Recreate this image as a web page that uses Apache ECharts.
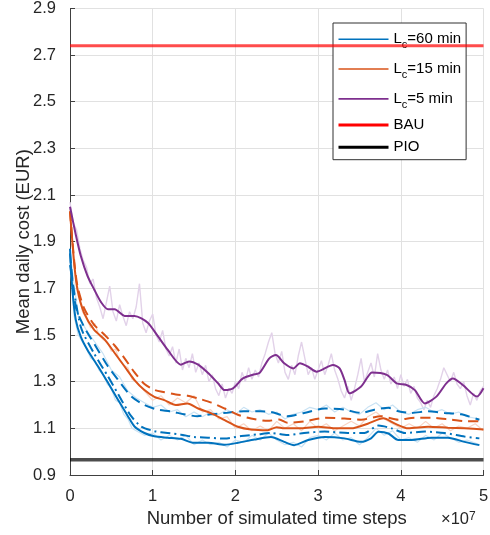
<!DOCTYPE html>
<html><head><meta charset="utf-8">
<script src="https://cdn.jsdelivr.net/npm/echarts@6/dist/echarts.min.js"></script>
<style>html,body{margin:0;padding:0;background:#fff}#c{width:490px;height:535px}</style>
</head><body><div id="c"></div>
<script>
// x in units of 1e7 simulated time steps, y = mean daily cost (EUR)
const xTickLabels = ['0','1','2','3','4','5'];
const yTickValues = [0.9,1.1,1.3,1.5,1.7,1.9,2.1,2.3,2.5,2.7,2.9];
const bauValue = 2.74;
const pioValue = 0.965;

const lc5Solid = [[0,2.05],[0.07,1.93],[0.13,1.84],[0.21,1.755],[0.29,1.697],[0.375,1.641],[0.46,1.61],[0.54,1.61],[0.66,1.582],[0.78,1.582],[0.94,1.553],[1.06,1.496],[1.18,1.437],[1.34,1.373],[1.44,1.387],[1.55,1.373],[1.67,1.337],[1.79,1.293],[1.87,1.264],[1.97,1.271],[2.09,1.314],[2.21,1.33],[2.29,1.337],[2.41,1.40],[2.49,1.414],[2.59,1.379],[2.70,1.357],[2.78,1.379],[2.88,1.364],[2.98,1.343],[3.18,1.372],[3.26,1.357],[3.32,1.307],[3.38,1.25],[3.52,1.279],[3.60,1.32],[3.65,1.339],[3.83,1.329],[3.95,1.293],[4.07,1.286],[4.17,1.264],[4.29,1.207],[4.43,1.236],[4.55,1.293],[4.63,1.314],[4.75,1.286],[4.92,1.236],[5.0,1.272]];
const lc15Solid = [[0,2.03],[0.05,1.81],[0.09,1.695],[0.17,1.595],[0.29,1.523],[0.42,1.48],[0.54,1.423],[0.66,1.365],[0.78,1.307],[0.9,1.264],[1.02,1.235],[1.14,1.221],[1.28,1.20],[1.42,1.207],[1.55,1.185],[1.71,1.164],[1.87,1.135],[2.03,1.107],[2.19,1.095],[2.39,1.092],[2.50,1.105],[2.59,1.10],[2.80,1.10],[3.0,1.107],[3.2,1.10],[3.4,1.10],[3.6,1.12],[3.79,1.143],[3.93,1.12],[4.09,1.10],[4.33,1.107],[4.57,1.103],[4.77,1.10],[5.0,1.095]];
const lc15Dashed = [[0,2.03],[0.05,1.82],[0.09,1.71],[0.17,1.615],[0.29,1.545],[0.42,1.50],[0.54,1.455],[0.66,1.40],[0.78,1.34],[0.9,1.29],[1.02,1.265],[1.14,1.255],[1.28,1.245],[1.42,1.24],[1.55,1.228],[1.71,1.21],[1.87,1.185],[2.03,1.158],[2.19,1.142],[2.39,1.132],[2.53,1.138],[2.63,1.124],[2.83,1.13],[3.08,1.145],[3.32,1.142],[3.52,1.137],[3.76,1.152],[3.97,1.137],[4.17,1.145],[4.37,1.145],[4.61,1.137],[4.81,1.13],[5.0,1.13]];
const lc60Solid = [[0,1.87],[0.03,1.69],[0.07,1.565],[0.13,1.493],[0.21,1.437],[0.34,1.365],[0.46,1.295],[0.58,1.223],[0.70,1.152],[0.78,1.108],[0.90,1.08],[1.02,1.066],[1.18,1.06],[1.34,1.055],[1.50,1.038],[1.67,1.038],[1.87,1.03],[2.03,1.038],[2.23,1.052],[2.43,1.063],[2.59,1.042],[2.71,1.028],[2.88,1.05],[3.08,1.063],[3.32,1.057],[3.52,1.042],[3.64,1.057],[3.73,1.085],[3.85,1.078],[3.97,1.05],[4.13,1.05],[4.37,1.06],[4.57,1.06],[4.77,1.042],[4.95,1.028]];
const lc60DashDot = [[0,1.80],[0.13,1.535],[0.29,1.422],[0.46,1.322],[0.62,1.223],[0.74,1.152],[0.86,1.108],[1.02,1.088],[1.18,1.08],[1.34,1.073],[1.50,1.063],[1.67,1.06],[1.87,1.056],[2.07,1.067],[2.27,1.074],[2.43,1.08],[2.63,1.071],[2.83,1.08],[3.08,1.086],[3.36,1.08],[3.56,1.08],[3.73,1.112],[3.89,1.10],[4.05,1.08],[4.29,1.086],[4.53,1.08],[4.77,1.065],[4.95,1.057]];
const lc60Dashed = [[0,1.85],[0.07,1.62],[0.17,1.535],[0.29,1.464],[0.46,1.365],[0.58,1.308],[0.74,1.237],[0.9,1.20],[1.06,1.18],[1.22,1.173],[1.38,1.16],[1.54,1.152],[1.70,1.16],[1.90,1.167],[2.10,1.173],[2.30,1.173],[2.43,1.17],[2.63,1.152],[2.83,1.166],[3.08,1.185],[3.32,1.18],[3.52,1.166],[3.68,1.18],[3.85,1.188],[3.97,1.173],[4.13,1.166],[4.33,1.173],[4.53,1.166],[4.73,1.16],[4.95,1.137]];

// faint raw (unsmoothed) traces
const lc5Raw = [[0,2.07],[0.04,1.98],[0.08,1.95],[0.12,1.87],[0.16,1.82],[0.2,1.79],[0.24,1.72],[0.28,1.74],[0.32,1.66],[0.36,1.62],[0.4,1.57],[0.44,1.64],[0.48,1.71],[0.52,1.60],[0.56,1.56],[0.6,1.63],[0.64,1.58],[0.68,1.54],[0.72,1.60],[0.76,1.57],[0.8,1.62],[0.84,1.72],[0.88,1.55],[0.92,1.51],[0.96,1.56],[1.0,1.59],[1.04,1.50],[1.08,1.47],[1.12,1.52],[1.16,1.44],[1.2,1.41],[1.24,1.45],[1.28,1.38],[1.32,1.44],[1.36,1.35],[1.40,1.40],[1.44,1.36],[1.48,1.42],[1.52,1.34],[1.56,1.38],[1.60,1.33],[1.64,1.37],[1.68,1.30],[1.72,1.33],[1.76,1.27],[1.80,1.24],[1.84,1.29],[1.88,1.23],[1.92,1.27],[1.96,1.25],[2.0,1.30],[2.04,1.27],[2.08,1.34],[2.12,1.30],[2.16,1.36],[2.2,1.31],[2.24,1.35],[2.28,1.32],[2.32,1.38],[2.36,1.42],[2.40,1.47],[2.44,1.51],[2.48,1.42],[2.52,1.38],[2.56,1.43],[2.60,1.34],[2.64,1.31],[2.68,1.37],[2.72,1.33],[2.76,1.41],[2.80,1.47],[2.84,1.40],[2.88,1.33],[2.92,1.36],[2.96,1.31],[3.0,1.35],[3.04,1.39],[3.08,1.33],[3.12,1.37],[3.16,1.42],[3.20,1.35],[3.24,1.31],[3.28,1.26],[3.32,1.23],[3.36,1.28],[3.40,1.22],[3.44,1.27],[3.48,1.33],[3.52,1.40],[3.56,1.30],[3.60,1.34],[3.64,1.38],[3.68,1.32],[3.72,1.42],[3.76,1.35],[3.80,1.31],[3.84,1.35],[3.88,1.29],[3.92,1.32],[3.96,1.27],[4.0,1.33],[4.04,1.28],[4.08,1.31],[4.12,1.25],[4.16,1.28],[4.20,1.23],[4.24,1.21],[4.28,1.18],[4.32,1.22],[4.36,1.19],[4.40,1.24],[4.44,1.27],[4.48,1.31],[4.52,1.36],[4.56,1.33],[4.60,1.30],[4.64,1.34],[4.68,1.29],[4.72,1.27],[4.76,1.30],[4.80,1.24],[4.84,1.20],[4.88,1.25],[4.92,1.22],[4.96,1.26],[5.0,1.28]];
const lc15Raw = [[0,2.04],[0.05,1.79],[0.1,1.69],[0.15,1.60],[0.2,1.57],[0.25,1.53],[0.3,1.55],[0.35,1.50],[0.4,1.48],[0.45,1.47],[0.5,1.43],[0.55,1.44],[0.6,1.39],[0.65,1.37],[0.7,1.36],[0.75,1.31],[0.8,1.30],[0.85,1.28],[0.9,1.26],[1.0,1.22],[1.1,1.24],[1.2,1.20],[1.3,1.23],[1.4,1.21],[1.5,1.24],[1.6,1.17],[1.7,1.18],[1.8,1.14],[1.9,1.15],[2.0,1.10],[2.1,1.12],[2.2,1.09],[2.3,1.11],[2.4,1.09],[2.5,1.13],[2.6,1.10],[2.7,1.12],[2.8,1.09],[2.9,1.13],[3.0,1.10],[3.1,1.12],[3.2,1.09],[3.3,1.11],[3.4,1.13],[3.5,1.11],[3.6,1.15],[3.7,1.17],[3.8,1.14],[3.9,1.12],[4.0,1.10],[4.1,1.12],[4.2,1.10],[4.3,1.13],[4.4,1.10],[4.5,1.12],[4.6,1.09],[4.7,1.11],[4.8,1.10],[4.9,1.12],[5.0,1.09]];
const lc60RawLow = [[0,1.82],[0.05,1.58],[0.1,1.50],[0.15,1.47],[0.2,1.44],[0.25,1.40],[0.3,1.39],[0.35,1.35],[0.4,1.33],[0.45,1.29],[0.5,1.27],[0.55,1.22],[0.6,1.21],[0.65,1.16],[0.7,1.14],[0.75,1.10],[0.8,1.09],[0.9,1.07],[1.0,1.08],[1.1,1.05],[1.2,1.07],[1.3,1.05],[1.4,1.07],[1.5,1.03],[1.6,1.05],[1.7,1.03],[1.8,1.04],[1.9,1.02],[2.0,1.05],[2.1,1.04],[2.2,1.07],[2.3,1.05],[2.4,1.08],[2.5,1.05],[2.6,1.03],[2.7,1.04],[2.8,1.02],[2.9,1.06],[3.0,1.07],[3.1,1.05],[3.2,1.08],[3.3,1.05],[3.4,1.06],[3.5,1.03],[3.6,1.06],[3.7,1.10],[3.8,1.07],[3.9,1.09],[4.0,1.05],[4.1,1.06],[4.2,1.04],[4.3,1.07],[4.4,1.05],[4.5,1.08],[4.6,1.06],[4.7,1.04],[4.8,1.05],[4.95,1.03]];
const lc60RawHigh = [[0,1.85],[0.1,1.58],[0.2,1.52],[0.3,1.47],[0.4,1.42],[0.5,1.35],[0.6,1.32],[0.7,1.26],[0.8,1.23],[0.9,1.21],[1.0,1.19],[1.1,1.20],[1.2,1.17],[1.3,1.18],[1.4,1.15],[1.5,1.17],[1.6,1.15],[1.7,1.17],[1.8,1.16],[1.9,1.18],[2.0,1.16],[2.1,1.19],[2.2,1.17],[2.3,1.18],[2.4,1.16],[2.5,1.17],[2.6,1.14],[2.7,1.16],[2.8,1.17],[2.9,1.19],[3.0,1.18],[3.1,1.20],[3.2,1.17],[3.3,1.19],[3.4,1.17],[3.5,1.16],[3.6,1.19],[3.7,1.21],[3.8,1.18],[3.9,1.20],[4.0,1.17],[4.1,1.16],[4.2,1.18],[4.3,1.19],[4.4,1.17],[4.5,1.18],[4.6,1.16],[4.7,1.17],[4.8,1.15],[4.95,1.14]];

const BLUE = '#0072BD', ORANGE = '#D95319', PURPLE = '#7E2F8E';
const TXT = '#262626';
const FONT = 'Liberation Sans, Arial, Helvetica, sans-serif';

const legendLabels = {
  'Lc60': '{m|L}{s|c}{m|=60 min}',
  'Lc15': '{m|L}{s|c}{m|=15 min}',
  'Lc5': '{m|L}{s|c}{m|=5 min}',
  'BAU': '{n|BAU}',
  'PIO': '{n|PIO}'
};

function faint(data, color, width) {
  return {type:'line', data, symbol:'none', showSymbol:false, silent:true, z:1,
    lineStyle:{color, width:width||1}, itemStyle:{color}};
}
function curve(name, data, color, type, width) {
  return {type:'line', name, data, symbol:'none', showSymbol:false, smooth:0.25, z:3,
    lineStyle:{color, width, type}, itemStyle:{color}};
}
const hideSym = {opacity:0, color:'rgba(0,0,0,0)', borderWidth:0};

const chart = echarts.init(document.getElementById('c'), null, {renderer:'canvas'});
chart.setOption({
  animation:false,
  backgroundColor:'#fff',
  textStyle:{fontFamily:FONT},
  grid:{left:70, right:6.5, top:8.4, bottom:60, containLabel:false, outerBoundsMode:'none'},
  xAxis:{
    type:'value', min:0, max:5, interval:1,
    name:'Number of simulated time steps', nameLocation:'middle', nameGap:30,
    nameTextStyle:{color:TXT, fontSize:18.5, fontFamily:FONT},
    axisLine:{show:true, onZero:false, lineStyle:{color:'#404040', width:1}},
    axisTick:{show:true, inside:true, length:5, lineStyle:{color:'#404040'}},
    axisLabel:{color:TXT, fontSize:16.5, margin:13, fontFamily:FONT,
      formatter:(v)=>xTickLabels[Math.round(v)]},
    splitLine:{show:true, lineStyle:{color:'#e1e1e1', width:1}}
  },
  yAxis:{
    type:'value', min:0.9, max:2.9, interval:0.2,
    name:'Mean daily cost (EUR)', nameLocation:'middle', nameGap:37, nameMoveOverlap:false,
    nameTextStyle:{color:TXT, fontSize:18.5, fontFamily:FONT},
    axisLine:{show:true, onZero:false, lineStyle:{color:'#404040', width:1}},
    axisTick:{show:true, inside:true, length:5, lineStyle:{color:'#404040'}},
    axisLabel:{color:TXT, fontSize:16.5, margin:14, fontFamily:FONT,
      formatter:(v)=>{ const t = yTickValues.find(y=>Math.abs(y-v)<1e-6); return t===undefined?'':t.toFixed(1);} },
    splitLine:{show:true, lineStyle:{color:'#e1e1e1', width:1}}
  },
  legend:{
    show:true, orient:'vertical', left:333, top:23,
    padding:[5,5,5,4], itemGap:7.3, itemWidth:50, itemHeight:15,
    backgroundColor:'#fff', borderColor:'#303030', borderWidth:1,
    itemStyle:hideSym,
    data:[
      {name:'Lc60', lineStyle:{width:1.6}, itemStyle:hideSym},
      {name:'Lc15', lineStyle:{width:1.6}, itemStyle:hideSym},
      {name:'Lc5', lineStyle:{width:1.6}, itemStyle:hideSym},
      {name:'BAU', lineStyle:{width:3, opacity:1}, itemStyle:hideSym},
      {name:'PIO', lineStyle:{width:3, opacity:1}, itemStyle:hideSym}
    ],
    formatter:(name)=>legendLabels[name],
    textStyle:{color:'#000', fontSize:15, fontFamily:FONT,
      rich:{
        m:{fontSize:15, lineHeight:22.5, height:22.5, fontFamily:FONT, color:'#000'},
        s:{fontSize:11, lineHeight:11, verticalAlign:'bottom', fontFamily:FONT, color:'#000'},
        n:{fontSize:15, lineHeight:15, fontFamily:FONT, color:'#000'}
      }}
  },
  graphic:[{
    type:'text', left:441, top:511, silent:true,
    style:{text:'×10{p|7}', fill:TXT, font:'16.5px '+FONT,
      rich:{p:{fontSize:12, verticalAlign:'top', lineHeight:12, fill:TXT, fontFamily:FONT}}}
  }],
  series:[
    faint(lc5Raw, '#e2d2e9', 1.4),
    faint(lc15Raw, '#f8d4c4', 1.2),
    faint(lc60RawHigh, '#c9e2f3', 1.2),
    faint(lc60RawLow, '#c9e2f3', 1.2),
    curve('Lc60d', lc60Dashed, BLUE, [10,6], 2),
    curve('Lc60dd', lc60DashDot, BLUE, [10,4,2,4], 2),
    curve('Lc15d', lc15Dashed, ORANGE, [10,6], 2),
    curve('Lc60', lc60Solid, BLUE, 'solid', 2),
    curve('Lc15', lc15Solid, ORANGE, 'solid', 2),
    curve('Lc5', lc5Solid, PURPLE, 'solid', 2),
    {type:'line', name:'BAU', symbol:'none', showSymbol:false, z:4, data:[[0,bauValue],[5,bauValue]],
      lineStyle:{color:'#ff0000', width:3, opacity:0.7}, itemStyle:{color:'#ff0000'}},
    {type:'line', name:'PIO', symbol:'none', showSymbol:false, z:4, data:[[0,pioValue],[5,pioValue]],
      lineStyle:{color:'#000000', width:3.5, opacity:0.7}, itemStyle:{color:'#000000'}}
  ]
});
</script>
</body></html>
